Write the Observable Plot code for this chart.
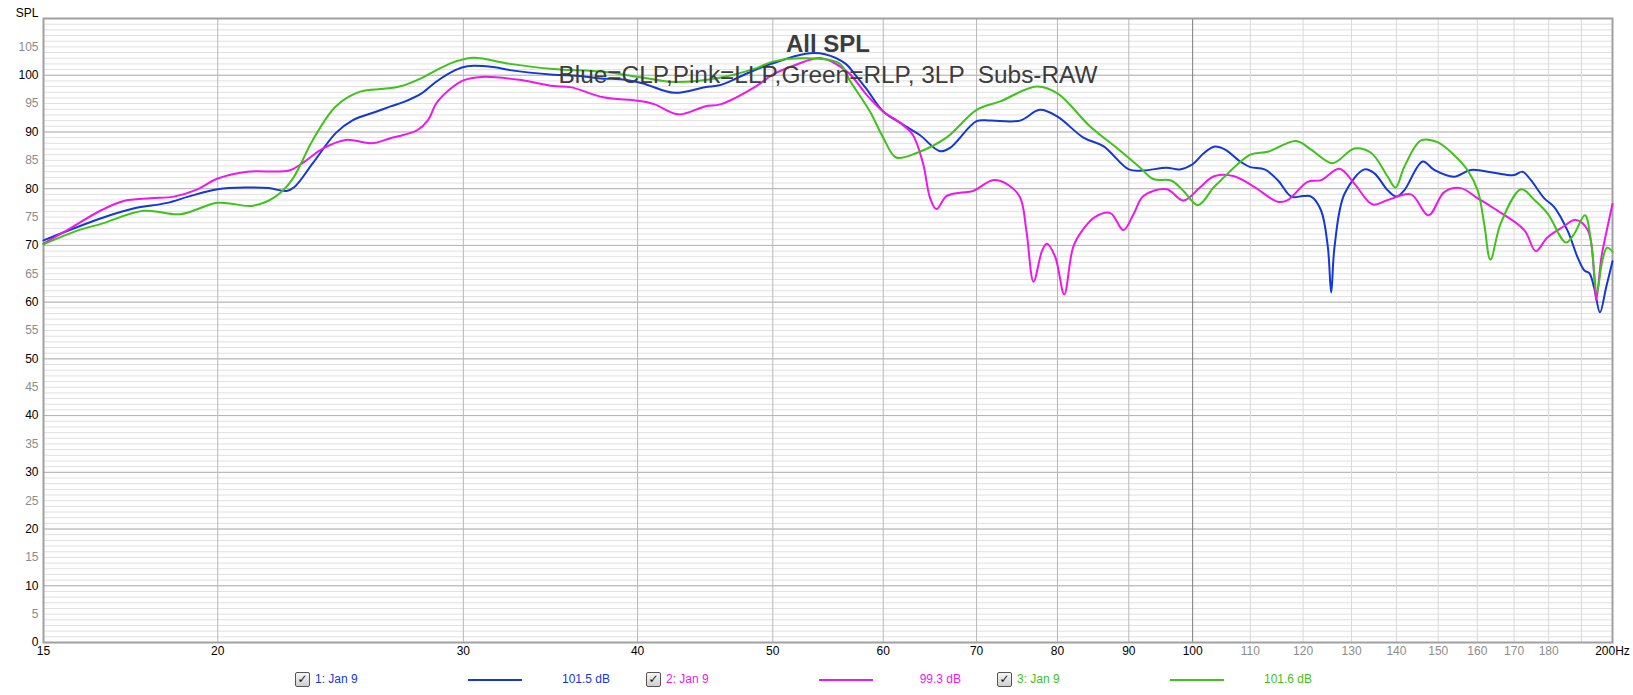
<!DOCTYPE html>
<html>
<head>
<meta charset="utf-8">
<script src="https://cdn.jsdelivr.net/npm/d3@7"></script>
<script src="https://cdn.jsdelivr.net/npm/@observablehq/plot@0.6"></script>
<style>
  body { margin: 0; background: #fff; font-family: Arial, "Liberation Sans", sans-serif; }
  #wrap { position: relative; width: 1633px; height: 695px; overflow: hidden; }
  #legend { position: absolute; left: 0; top: 665px; width: 1633px; height: 30px; font-size: 12px; }
  .cb { position: absolute; top: 7px; width: 13px; height: 13px; border: 1px solid #555; border-radius: 2px;
        background: linear-gradient(#f6f6f6, #cfcfcf); font-size: 12px; line-height: 13px; text-align: center; color: #111;
        font-family: "DejaVu Sans", sans-serif; font-weight: bold; }
  .lab { position: absolute; top: 7px; line-height: 14px; white-space: nowrap; }
  .swatch { position: absolute; top: 14px; height: 2px; width: 54px; }
  .val { position: absolute; top: 7px; line-height: 14px; white-space: nowrap; text-align: right; width: 80px; }
</style>
</head>
<body>
<div id="wrap">
  <div id="chart"></div>
  <div id="legend"></div>
</div>
<script>
// ---- Data ----
const seriesNames = ["CLP", "LLP", "RLP"];
const seriesColors = ["#1437d6", "#ec18ec", "#3fc21a"];
const legendLabels = ["1: Jan 9", "2: Jan 9", "3: Jan 9"];
const legendValues = ["101.5 dB", "99.3 dB", "101.6 dB"];

const clpFreq = [15, 16.5, 17.4, 18.4, 19.05, 20, 21, 21.75, 22.4, 22.7, 23.4, 24.3, 25, 26, 26.6, 27.2, 28, 28.7, 29.6, 30.2, 31.6, 32.4, 34.8, 36.2, 37.8, 38.9, 40.3, 42.5, 44.7, 45.9, 48, 50, 52.8, 54.5, 56.4, 57.2, 58.4, 60, 62, 63.7, 65.9, 67, 70, 71.6, 75.2, 77.7, 80, 83.5, 86.3, 90, 92.2, 95.8, 97.9, 100, 101.8, 103.6, 105.5, 108.3, 110, 112.6, 115.1, 117.7, 120, 121.6, 123.6, 125, 125.7, 126.4, 128.5, 132.8, 135, 138, 140, 141.8, 146.2, 149, 154, 158.3, 164.5, 170, 172.4, 174.8, 178.7, 181.6, 185.7, 188.8, 190.9, 192.5, 194.1, 195.9, 197.9, 200];
const clpSpl = [70.9, 74.8, 76.5, 77.5, 78.6, 79.9, 80.2, 80.1, 79.6, 80.3, 84.5, 89.8, 92.1, 93.6, 94.5, 95.3, 96.8, 98.9, 100.9, 101.6, 101.4, 100.9, 100.1, 99.9, 99.4, 99.3, 98.6, 96.9, 97.9, 98.3, 100.4, 102.1, 103.8, 103.7, 102.0, 100.3, 97.5, 93.6, 91.3, 89.5, 86.6, 87.2, 91.9, 92.0, 92.0, 93.9, 92.7, 89.0, 87.5, 83.4, 83.2, 83.7, 83.4, 84.3, 86.2, 87.4, 86.9, 84.7, 83.8, 83.4, 81.5, 78.6, 78.7, 78.6, 76.2, 69.8, 61.7, 69.8, 79.1, 83.4, 82.7, 79.7, 78.6, 79.7, 84.8, 83.3, 82.1, 83.3, 82.8, 82.4, 83.0, 81.5, 78.3, 76.8, 72.6, 67.9, 65.6, 65.1, 62.4, 58.2, 62.6, 67.2];

const llpFreq = [15, 15.6, 16.5, 17.1, 17.9, 18.6, 19.3, 20, 21, 22.5, 23, 23.8, 24.7, 25.8, 26.6, 27.2, 27.8, 28.3, 28.7, 29.4, 30, 30.9, 32.9, 34.8, 35.8, 37.8, 40, 41.1, 42.8, 44.7, 45.9, 48.6, 50, 51.9, 54.2, 56.6, 58.4, 60, 61.7, 63, 64.1, 64.8, 65.5, 66.6, 68.1, 69.6, 71.9, 73.6, 75.2, 76, 76.9, 78, 78.6, 79.7, 80.9, 82.1, 83.5, 85.1, 87.3, 89.2, 90.7, 92.2, 95.8, 98.5, 101.2, 103.6, 107.1, 110.7, 115.1, 117, 120.9, 123.6, 127.4, 130.6, 134.6, 138, 143.4, 147.6, 151.5, 155.7, 160.1, 164.5, 172.9, 176.2, 179.6, 184.1, 188.3, 192, 194.1, 194.7, 196.4, 197.9, 200];
const llpSpl = [70.3, 72.7, 76.2, 77.8, 78.3, 78.6, 79.8, 81.8, 83.0, 83.2, 84.5, 87.1, 88.6, 88.0, 88.9, 89.5, 90.3, 92.1, 95.1, 97.7, 99.1, 99.7, 99.2, 98.1, 97.9, 96.1, 95.5, 94.9, 93.1, 94.5, 94.9, 98.0, 100.1, 101.8, 103.0, 100.5, 96.5, 93.6, 91.6, 89.5, 84.3, 78.5, 76.4, 78.7, 79.3, 79.6, 81.5, 80.8, 78.5, 72.6, 63.6, 69.1, 70.3, 68.0, 61.4, 69.7, 72.9, 75.0, 75.7, 72.7, 75.5, 78.7, 79.9, 77.9, 80.2, 82.2, 82.2, 80.3, 77.7, 78.0, 81.2, 81.5, 83.5, 80.9, 77.2, 78.0, 79.0, 75.3, 79.4, 80.1, 78.3, 76.5, 72.7, 69.0, 71.4, 73.2, 74.5, 72.7, 64.5, 60.3, 68.0, 72.1, 77.3];

const rlpFreq = [15, 15.9, 16.5, 17.7, 18.8, 20, 21.2, 22, 22.6, 23.4, 24.3, 25.3, 26.3, 27, 28, 28.7, 29.6, 30.5, 32.4, 34.8, 37.8, 40.3, 42.5, 45.9, 48.6, 50, 52.8, 55.8, 56.8, 58.7, 60, 61.3, 63.4, 66.6, 70, 72.8, 77.3, 80, 84.4, 88.2, 91.7, 93.7, 96.6, 98.5, 100.9, 103.5, 104.8, 110, 113.2, 118.6, 121.6, 126, 130.6, 134.3, 138, 139.8, 141.8, 145.8, 149.8, 154, 157.4, 160.1, 161.8, 163.5, 166.3, 172, 175.8, 179.7, 185.2, 187.8, 191.1, 193, 194.9, 196.7, 198.2, 200];
const rlpSpl = [70.2, 72.7, 73.8, 76.1, 75.5, 77.5, 77.0, 78.6, 81.5, 88.6, 94.5, 97.1, 97.6, 98.0, 99.5, 100.9, 102.4, 103.1, 102.0, 101.1, 100.6, 99.6, 98.8, 99.6, 101.2, 102.4, 103.0, 102.1, 99.0, 93.6, 89.0, 85.5, 86.3, 89.0, 93.9, 95.4, 98.0, 96.8, 91.0, 87.2, 83.7, 81.7, 81.4, 79.6, 77.1, 80.2, 81.5, 86.0, 86.5, 88.4, 86.9, 84.5, 87.1, 86.3, 82.1, 80.2, 83.8, 88.5, 88.2, 85.9, 83.3, 79.7, 73.9, 67.5, 73.9, 79.9, 78.0, 75.6, 70.5, 72.1, 75.3, 70.9, 61.8, 67.4, 69.6, 68.9];

// axis / grid tick values
const yMajorTicks = [0, 10, 20, 30, 40, 50, 60, 70, 80, 90, 100];
const yMinorLabelTicks = [5, 15, 25, 35, 45, 55, 65, 75, 85, 95, 105];
const yFineGrid = d3.range(0, 111, 1);
const xMajorTicks = [15, 20, 30, 40, 50, 60, 70, 80, 90, 100, 200];
const xMinorLabelTicks = [110, 120, 130, 140, 150, 160, 170, 180];
const xGridMid = [20, 30, 40, 50, 60, 70, 80, 90];
const xGridDecade = [100];
const xGridHigh = [110, 120, 130, 140, 150, 160, 170, 180, 190];

const titleText = "All SPL";
const subtitleText = "Blue=CLP,Pink=LLP,Green=RLP, 3LP  Subs-RAW";
const yLabelText = "SPL";

// ---- Build table ----
const freqs = [clpFreq, llpFreq, rlpFreq];
const spls = [clpSpl, llpSpl, rlpSpl];
const rows = seriesNames.flatMap((name, k) => freqs[k].map((f, i) => ({series: name, f, v: spls[k][i]})));

const font = "Arial, 'Liberation Sans', sans-serif";

const chart = Plot.plot({
  width: 1633,
  height: 665,
  marginLeft: 43,
  marginRight: 21,
  marginTop: 18,
  marginBottom: 23,
  style: {fontFamily: font, fontSize: "12px", background: "#fff", overflow: "visible"},
  x: {type: "log", domain: [15, 200]},
  y: {domain: [0, 110]},
  color: {domain: seriesNames, range: seriesColors},
  marks: [
    Plot.ruleY(yFineGrid, {stroke: "#e0e0e0", strokeWidth: 1}),
    Plot.ruleY(yMajorTicks, {stroke: "#b2b2b2", strokeWidth: 1}),
    Plot.ruleX(xGridHigh, {stroke: "#d9d9d9", strokeWidth: 1}),
    Plot.ruleX(xGridMid, {stroke: "#b8b8b8", strokeWidth: 1}),
    Plot.ruleX(xGridDecade, {stroke: "#7c7c7c", strokeWidth: 1}),
    Plot.frame({stroke: "#a0a0a0", strokeWidth: 2}),
    Plot.axisY({ticks: yMajorTicks, tickSize: 0, tickPadding: 5, fill: "#000", label: null, fontSize: 12}),
    Plot.axisY({ticks: yMinorLabelTicks, tickSize: 0, tickPadding: 5, fill: "#8c8c8c", label: null, fontSize: 12}),
    Plot.axisX({ticks: xMajorTicks, tickSize: 0, tickPadding: 4, fill: "#000", label: null, fontSize: 12,
                tickFormat: d => d === 200 ? "200Hz" : String(d)}),
    Plot.axisX({ticks: xMinorLabelTicks, tickSize: 0, tickPadding: 4, fill: "#8c8c8c", label: null, fontSize: 12,
                tickFormat: d => String(d)}),
    Plot.line(rows, {x: "f", y: "v", z: "series", stroke: "series", strokeWidth: 2, curve: "catmull-rom"}),
    Plot.text([titleText], {frameAnchor: "top", dy: 16, fontSize: 24, fontWeight: "bold", fill: "#3c3c3c"}),
    Plot.text([subtitleText], {frameAnchor: "top", dy: 47, fontSize: 24.4, fill: "#3c3c3c"}),
    Plot.text([yLabelText], {frameAnchor: "top-left", dx: -5, dy: -10, textAnchor: "end", fontSize: 12, fill: "#000"})
  ]
});
// preserve the double space in the subtitle
chart.querySelectorAll("text").forEach(t => {
  if (t.textContent === subtitleText) { t.setAttribute("xml:space", "preserve"); t.style.whiteSpace = "pre"; }
});
document.getElementById("chart").appendChild(chart);

// ---- Legend (below the SVG) ----
const legend = document.getElementById("legend");
seriesNames.forEach((name, i) => {
  const base = 295 + 351 * i;
  const cb = document.createElement("div");
  cb.className = "cb"; cb.style.left = base + "px"; cb.textContent = "✓";
  legend.appendChild(cb);
  const lab = document.createElement("div");
  lab.className = "lab"; lab.style.left = (base + 20) + "px"; lab.style.color = seriesColors[i];
  lab.textContent = legendLabels[i];
  legend.appendChild(lab);
  const sw = document.createElement("div");
  sw.className = "swatch"; sw.style.left = (base + 173) + "px"; sw.style.background = seriesColors[i];
  legend.appendChild(sw);
  const val = document.createElement("div");
  val.className = "val"; val.style.left = (base + 315 - 80) + "px"; val.style.color = seriesColors[i];
  val.textContent = legendValues[i];
  legend.appendChild(val);
});
</script>
</body>
</html>
